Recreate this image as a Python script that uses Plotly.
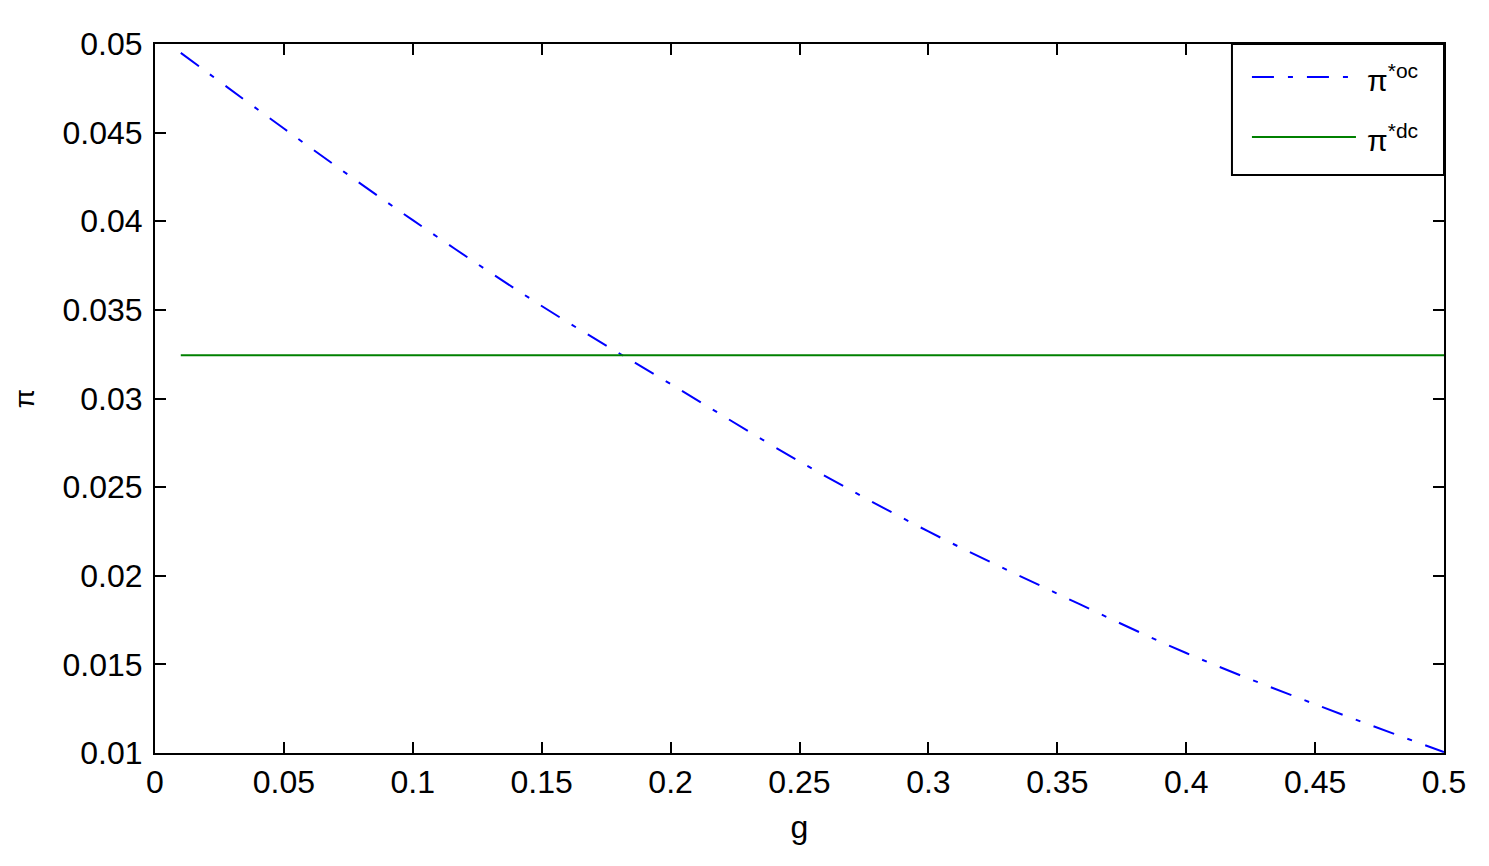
import plotly.graph_objects as go

# data
g_vals = [0.01, 0.05, 0.10, 0.15, 0.1813, 0.20, 0.25, 0.30, 0.35, 0.40, 0.45, 0.50]
pi_oc = [0.0495, 0.04523, 0.04006, 0.03522, 0.03244, 0.03082, 0.02645, 0.02250, 0.01899, 0.01564, 0.01275, 0.01005]
g_dc = [0.01, 0.50]
pi_dc = [0.03244, 0.03244]

x_ticks = [0, 0.05, 0.1, 0.15, 0.2, 0.25, 0.3, 0.35, 0.4, 0.45, 0.5]
x_labels = ["0", "0.05", "0.1", "0.15", "0.2", "0.25", "0.3", "0.35", "0.4", "0.45", "0.5"]
y_ticks = [0.01, 0.015, 0.02, 0.025, 0.03, 0.035, 0.04, 0.045, 0.05]
y_labels = ["0.01", "0.015", "0.02", "0.025", "0.03", "0.035", "0.04", "0.045", "0.05"]
legend_names = ["π<sup>*oc</sup>", "π<sup>*dc</sup>"]

FONT = "Liberation Sans, Arial, sans-serif"
BLUE = "rgb(0,0,255)"
GREEN = "rgb(0,128,0)"
DASH = "22px,14px,5px,14px"

fig = go.Figure()
fig.add_trace(go.Scatter(
    x=g_vals, y=pi_oc, mode="lines", name=legend_names[0],
    line=dict(color=BLUE, width=2, dash=DASH, shape="spline"),
))
fig.add_trace(go.Scatter(
    x=g_dc, y=pi_dc, mode="lines", name=legend_names[1],
    line=dict(color=GREEN, width=2),
))

axis_common = dict(
    showline=True, linecolor="black", linewidth=2, mirror="ticks",
    ticks="inside", ticklen=11, tickwidth=2, tickcolor="black",
    showgrid=False, zeroline=False,
    tickfont=dict(family=FONT, size=32, color="black"),
)

# custom legend box (MATLAB style) in paper coordinates
shapes = [
    dict(type="rect", xref="paper", yref="paper", x0=0.8355, x1=1.0, y0=0.8152, y1=1.0,
         line=dict(color="black", width=2), fillcolor="white", layer="above"),
    dict(type="line", xref="paper", yref="paper", x0=0.851, x1=0.9317, y0=0.9535, y1=0.9535,
         line=dict(color=BLUE, width=2, dash=DASH), layer="above"),
    dict(type="line", xref="paper", yref="paper", x0=0.851, x1=0.9317, y0=0.8688, y1=0.8688,
         line=dict(color=GREEN, width=2), layer="above"),
]
annotations = [
    dict(xref="paper", yref="paper", x=0.9385, y=0.952, xanchor="left", yanchor="middle",
         text=legend_names[0], showarrow=False, font=dict(family=FONT, size=30, color="black")),
    dict(xref="paper", yref="paper", x=0.9385, y=0.867, xanchor="left", yanchor="middle",
         text=legend_names[1], showarrow=False, font=dict(family=FONT, size=30, color="black")),
]

fig.update_layout(
    width=1489, height=866,
    margin=dict(l=147, r=53, t=36, b=121),
    plot_bgcolor="white", paper_bgcolor="white",
    font=dict(family=FONT, color="black"),
    xaxis=dict(range=[0, 0.5], tickvals=x_ticks, ticktext=x_labels,
               title=dict(text="g", font=dict(family=FONT, size=32), standoff=16),
               **axis_common),
    yaxis=dict(range=[0.01, 0.05], tickvals=y_ticks, ticktext=y_labels,
               ticklabelstandoff=4,
               title=dict(text="π", font=dict(family=FONT, size=28), standoff=20),
               **axis_common),
    shapes=shapes,
    annotations=annotations,
    showlegend=False,
)

fig.write_html("out.html")
